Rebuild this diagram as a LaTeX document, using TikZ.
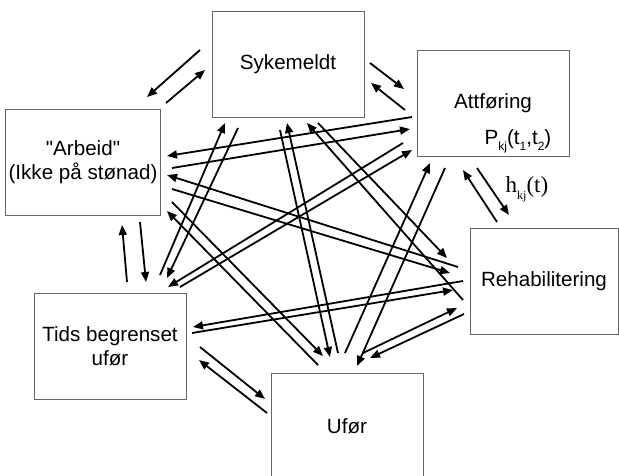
\documentclass[tikz,border=0pt]{standalone}
\usepackage{fontspec}
\setmainfont{Liberation Sans}[Ligatures=TeXOff]
\newfontfamily\timesfont{Liberation Serif}
\usetikzlibrary{arrows.meta}

\newcommand{\lowsub}[1]{\raisebox{-0.3em}{\fontsize{12}{12}\selectfont #1}}

\begin{document}
\begin{tikzpicture}[x=1pt, y=-1pt,
		state/.style={draw=black!60, line width=0.9pt, minimum width=152pt, minimum height=106pt, align=center, font=\fontsize{20.6}{24}\selectfont},
		arr/.style={-{Triangle[length=10pt,width=8pt]}, line width=1.8pt}]
			\useasboundingbox (0,0) rectangle (619,475);
			\node (syk) at (288,64) [state] {Sykemeldt};
			\node (att) at (493,103) [state] {Attføring};
			\node (arb) at (83,162) [state] {"Arbeid"\\(Ikke på stønad)};
			\node (tids) at (110,346) [state] {Tids begrenset\\ufør};
			\node (reh) at (544,281) [state, minimum width=148pt] {Rehabilitering};
			\node (ufo) at (347,426) [state] {Ufør};
			% each arrow: from node / offset of tail / to node / offset of head
			\foreach \a/\x/\y/\b/\u/\v in {
				syk/-88/-14/arb/64/-65, arb/83/-59/syk/-83/6,
				syk/82/-1/att/-89/-14, att/-88/7/syk/83/19,
				att/-16/65/reh/-35/-66, reh/-47/-59/att/-30/67,
				arb/57/60/tids/36/-64, tids/17/-64/arb/39/63,
				tids/90/1/ufo/-82/-27, ufo/-80/-13/tids/89/14,
				ufo/16/-73/reh/-87/27, reh/-80/33/ufo/23/-68,
				att/-81/14/arb/84/-6, arb/89/6/att/-83/26,
				reh/-86/-14/arb/84/13, arb/89/27/reh/-94/-8,
				arb/89/40/ufo/-24/-70, ufo/-29/-61/arb/84/49,
				syk/-50/64/tids/57/-68, tids/50/-71/syk/-63/59,
				att/-90/40/tids/58/-59, tids/70/-59/att/-81/47,
				syk/-8/66/ufo/-17/-69, ufo/-9/-73/syk/-1/59,
				syk/30/59/reh/-97/-23, reh/-81/19/syk/19/59,
				att/-48/65/ufo/10/-60, ufo/-2/-73/att/-63/60,
				tids/82/-13/reh/-91/9, reh/-81/0/tids/83/-19}
				\draw[arr] ([shift={(\x,\y)}]\a.center) -- ([shift={(\u,\v)}]\b.center);
			\node (pkj) at (518,141) [font=\fontsize{20.6}{24}\selectfont] {P\lowsub{kj}(t\lowsub{1},t\lowsub{2})};
			\node (hkj) at (527,189) [font=\timesfont\fontsize{23}{24}\selectfont] {h\lowsub{kj}(t)};
		\end{tikzpicture}
\end{document}
